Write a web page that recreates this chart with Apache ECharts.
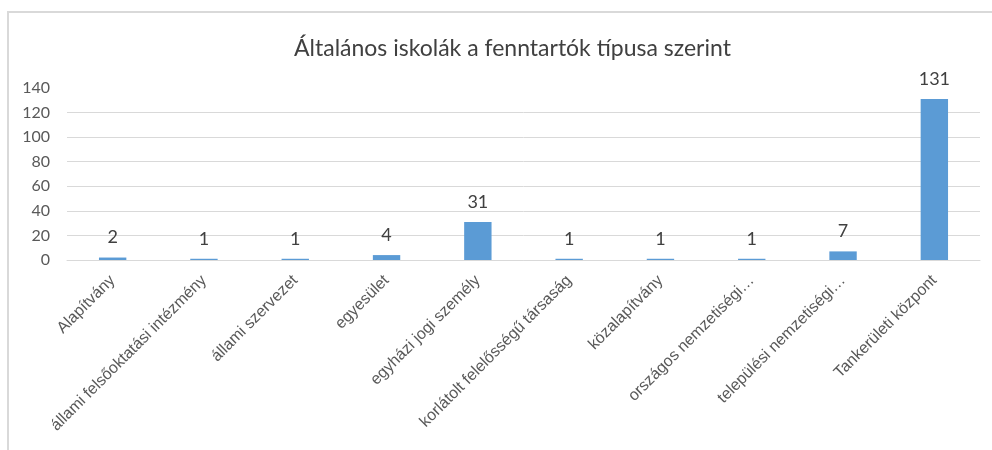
<!DOCTYPE html>
<html>
<head>
<meta charset="utf-8">
<script src="https://cdn.jsdelivr.net/npm/echarts@6/dist/echarts.min.js"></script>
<style>
  html, body { margin: 0; padding: 0; background: #fff; }
  .frame {
    position: absolute; left: 7px; top: 11px; width: 990px; height: 450px;
    border-top: 2px solid #d9d9d9; border-left: 2px solid #d9d9d9;
    box-sizing: border-box;
  }
  .echart { position: absolute; left: 0; top: 0; width: 992px; height: 450px; }
</style>
</head>
<body>
<div class="frame"></div>
<div id="echart" class="echart"></div>
<script>
// fenntartó típusok
const categories = [
  'Alapítvány',
  'állami felsőoktatási intézmény',
  'állami szervezet',
  'egyesület',
  'egyházi jogi személy',
  'korlátolt felelősségű társaság',
  'közalapítvány',
  'országos nemzetiségi…',
  'települési nemzetiségi…',
  'Tankerületi központ'
];
const values = [2, 1, 1, 4, 31, 1, 1, 1, 7, 131];
const yTicks = [0, 20, 40, 60, 80, 100, 120, 140];

const myChart = echarts.init(document.getElementById('echart'));

const options = {
  animation: false,
  title: {
    text: 'Általános iskolák a fenntartók típusa szerint',
    left: 289,
    top: 32,
    textStyle: {
      fontFamily: 'Lato',
      fontWeight: 'normal',
      fontSize: 23,
      color: '#404040'
    }
  },
  grid: {
    left: 67,
    right: 12,
    top: 88,
    bottom: 190
  },
  xAxis: {
    type: 'category',
    data: categories,
    axisLine: { lineStyle: { color: '#d9d9d9', width: 1 } },
    axisTick: { show: false },
    axisLabel: {
      interval: 0,
      rotate: 45,
      margin: 18,
      fontFamily: 'Liberation Sans',
      fontSize: 16,
      color: '#595959'
    }
  },
  yAxis: {
    type: 'value',
    min: yTicks[0],
    max: yTicks[yTicks.length - 1],
    interval: 20,
    axisLine: { show: false },
    axisTick: { show: false },
    axisLabel: {
      margin: 17,
      fontFamily: 'Lato',
      fontSize: 16,
      color: '#595959'
    },
    splitLine: {
      lineStyle: {
        // no line at the top (140)
        color: ['#d9d9d9', '#d9d9d9', '#d9d9d9', '#d9d9d9', '#d9d9d9', '#d9d9d9', '#d9d9d9', 'rgba(0,0,0,0)'],
        width: 1
      }
    }
  },
  series: [{
    type: 'bar',
    data: values,
    barWidth: '30%',
    itemStyle: { color: '#5b9bd5' },
    label: {
      show: true,
      position: 'top',
      distance: 11,
      fontFamily: 'Lato',
      fontSize: 18,
      color: '#404040'
    }
  }]
};

myChart.setOption(options);
</script>
</body>
</html>
